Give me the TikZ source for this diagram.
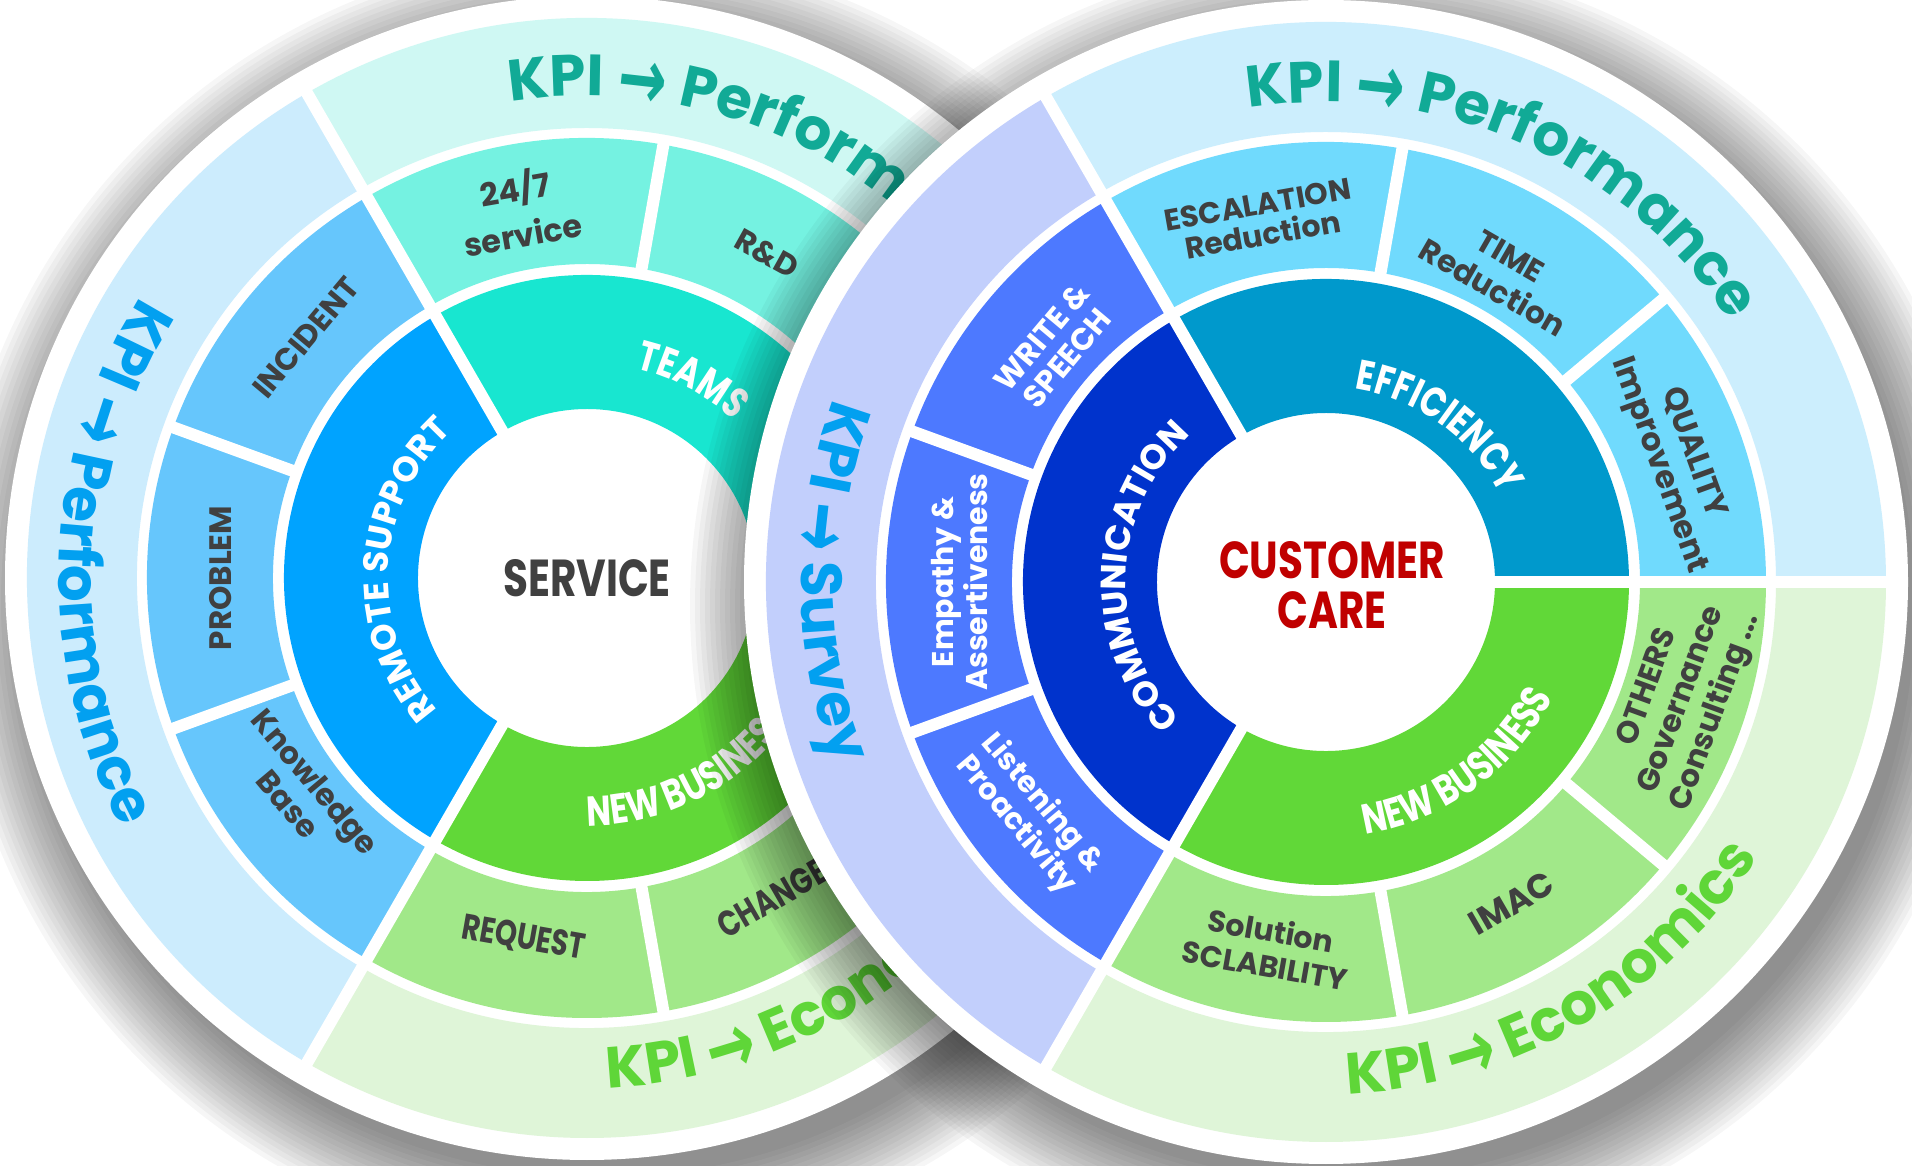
\documentclass[tikz,border=0pt]{standalone}
\usepackage{fontspec,graphicx}
\setmainfont{Poppins}
\newfontfamily\narrowfont{Poppins}[FakeStretch=0.78]
\newfontfamily\arrowfont{DejaVu Sans}
\usetikzlibrary{decorations.text}

\definecolor{ink}{HTML}{404040}
\definecolor{carered}{HTML}{C00000}
\definecolor{kpiteal}{HTML}{11AA96}
\definecolor{kpiblue}{HTML}{02A0F0}
\definecolor{kpigreen}{HTML}{5FD638}
% service wheel
\definecolor{teamsband}{HTML}{CFF8F3}
\definecolor{teamsmid}{HTML}{75F2E1}
\definecolor{teamscore}{HTML}{18E6D0}
\definecolor{supportband}{HTML}{CCECFD}
\definecolor{supportmid}{HTML}{66C6FC}
\definecolor{supportcore}{HTML}{00A3FF}
% shared green sector
\definecolor{bizband}{HTML}{DFF5D8}
\definecolor{bizmid}{HTML}{A1E889}
\definecolor{bizcore}{HTML}{61D838}
% customer care wheel
\definecolor{effband}{HTML}{CCEEFD}
\definecolor{effmid}{HTML}{70DAFD}
\definecolor{effcore}{HTML}{0099CC}
\definecolor{comband}{HTML}{C2CFFC}
\definecolor{commid}{HTML}{4D79FF}
\definecolor{comcore}{HTML}{0033CC}

% type for the curved texts
\newcommand\kpisize{\bfseries\fontsize{58}{60}\selectfont}
\newcommand\coresize{\bfseries\fontsize{35}{35}\selectfont}
\newcommand\corenarrow{\narrowfont\bfseries\fontsize{42}{42}\selectfont}
\newcommand\kpiarrow{{\arrowfont\fontsize{86}{86}\selectfont\raisebox{-9pt}{\scalebox{.68}[1]{→}}}}

% one piece of a ring: centre, inner r, outer r, from, to, colour
\newcommand\ringpart[6]{%
  \fill[#6,shift={(#1)}] (#4:#2pt) arc[start angle=#4,end angle=#5,radius=#2pt]
    -- (#5:#3pt) arc[start angle=#5,end angle=#4,radius=#3pt] -- cycle;}
% text set along an arc: centre, radius, from, to, colour, text
\newcommand\arclabel[6]{%
  \path[shift={(#1)},decorate,decoration={text along path,text align=center,
    text color=#5,text={#6}}] (#3:#2pt) arc[start angle=#3,end angle=#4,radius=#2pt];}
% soft shadow under a wheel
\newcommand\wheelshadow[1]{%
  \foreach \k in {0,...,15}
    \fill[black,opacity=.034] ([shift={(14,-24)}]#1) circle[radius=575pt+5pt*\k];}

\begin{document}
\begin{tikzpicture}[x=1pt,y=1pt,
  gap/.style={white,line width=12pt},
  darklabel/.style={text=ink,align=center,inner sep=0pt,
    font=\bfseries\fontsize{31}{35}\selectfont},
  lightlabel/.style={darklabel,text=white},
  narrowlabel/.style={darklabel,font=\narrowfont\bfseries\fontsize{36}{40}\selectfont},
  hub/.style={align=center,inner sep=0pt,
    font=\narrowfont\bfseries\fontsize{52}{50}\selectfont}]
\useasboundingbox (0,0) rectangle (1912,1165);
\coordinate (L) at (587,587);
\coordinate (R) at (1326,583);

%% SERVICE wheel
\wheelshadow{L}
\fill[white] (L) circle[radius=582pt];
\ringpart{L}{450}{560}{0}{120}{teamsband}
\ringpart{L}{450}{560}{120}{240}{supportband}
\ringpart{L}{450}{560}{240}{360}{bizband}
\ringpart{L}{314}{440}{0}{120}{teamsmid}
\ringpart{L}{314}{440}{120}{240}{supportmid}
\ringpart{L}{314}{440}{240}{360}{bizmid}
\ringpart{L}{169}{303}{0}{120}{teamscore}
\ringpart{L}{169}{303}{120}{240}{supportcore}
\ringpart{L}{169}{303}{240}{360}{bizcore}
\foreach \a in {0,120,240}
  \draw[gap,shift={(L)}] (\a:160pt) -- (\a:570pt);
\foreach \a in {40,80,160,200,280,320}
  \draw[gap,shift={(L)}] (\a:305pt) -- (\a:445pt);

\node[hub,text=ink] (service) at (L) {SERVICE};
\begin{scope}[shift={(L)}]
  \node[darklabel,rotate=10,font=\bfseries\fontsize{32}{46}\selectfont] (roundclock) at (100.5:375) {24/7\\service};
  \node[darklabel,rotate=-29] (rnd) at (61:371) {R\&D};
  \node[darklabel,rotate=50] (incident) at (139.5:370) {INCIDENT};
  \node[darklabel,rotate=90] (problem) at (180:366) {PROBLEM};
  \node[darklabel,rotate=-50] (kbase) at (217:357) {Knowledge\\Base};
  \node[narrowlabel,rotate=-10] (request) at (260:366) {REQUEST};
  \node[narrowlabel,rotate=30] (change) at (300:370) {CHANGE};
\end{scope}
\arclabel{L}{215}{102}{22}{white}{|\corenarrow|TEAMS}
\arclabel{L}{199}{237}{117}{white}{|\coresize|REMOTE SUPPORT}
\arclabel{L}{248}{-112}{-12}{white}{|\corenarrow|NEW BUSINESS}
\arclabel{L}{482}{126}{6}{kpiteal}{|\kpisize|KPI {\kpiarrow} Performance}
\arclabel{L}{528}{118}{238}{kpiblue}{|\kpisize|KPI {\kpiarrow} Performance}
\arclabel{L}{510}{-120}{0}{kpigreen}{|\kpisize|KPI {\kpiarrow} Economics}

%% CUSTOMER CARE wheel
\wheelshadow{R}
\fill[white] (R) circle[radius=582pt];
\ringpart{R}{450}{560}{0}{120}{effband}
\ringpart{R}{450}{560}{120}{240}{comband}
\ringpart{R}{450}{560}{240}{360}{bizband}
\ringpart{R}{314}{440}{0}{120}{effmid}
\ringpart{R}{314}{440}{120}{240}{commid}
\ringpart{R}{314}{440}{240}{360}{bizmid}
\ringpart{R}{169}{303}{0}{120}{effcore}
\ringpart{R}{169}{303}{120}{240}{comcore}
\ringpart{R}{169}{303}{240}{360}{bizcore}
\foreach \a in {0,120,240}
  \draw[gap,shift={(R)}] (\a:160pt) -- (\a:570pt);
\foreach \a in {40,80,160,200,280,320}
  \draw[gap,shift={(R)}] (\a:305pt) -- (\a:445pt);

\node[hub,text=carered] (care) at ([xshift=6,yshift=-3]R) {CUSTOMER\\CARE};
\begin{scope}[shift={(R)}]
  \node[darklabel,rotate=10,font=\bfseries\fontsize{30}{31}\selectfont] (escalation) at (100.3:368) {ESCALATION\\Reduction};
  \node[darklabel,rotate=-30,font=\bfseries\fontsize{31}{36}\selectfont] (time) at (60.5:356) {TIME\\Reduction};
  \node[darklabel,rotate=-70,font=\bfseries\fontsize{32}{36}\selectfont] (quality) at (19.3:370) {QUALITY\\Improvement};
  \node[darklabel,rotate=70,font=\bfseries\fontsize{31}{36}\selectfont] (others) at (-18.3:376) {OTHERS\\Governance\\Consulting ...};
  \node[darklabel,rotate=30,font=\bfseries\fontsize{34}{36}\selectfont] (imac) at (-60:371) {IMAC};
  \node[darklabel,rotate=-10,font=\bfseries\fontsize{30}{35}\selectfont] (solution) at (261:370) {Solution\\SCLABILITY};
  \node[lightlabel,rotate=50,font=\bfseries\fontsize{31}{33}\selectfont] (write) at (139.2:359) {WRITE \&\\SPEECH};
  \node[lightlabel,rotate=90,font=\bfseries\fontsize{30}{34}\selectfont] (empathy) at (180:366) {Empathy \&\\Assertiveness};
  \node[lightlabel,rotate=-50,font=\bfseries\fontsize{30}{34}\selectfont] (listening) at (218:377) {Listening \&\\Proactivity};
\end{scope}
\arclabel{R}{195}{104}{4}{white}{|\corenarrow|EFFICIENCY}
\arclabel{R}{200}{240}{116}{white}{|\coresize|COMMUNICATION}
\arclabel{R}{255}{-104}{-4}{white}{|\corenarrow|NEW BUSINESS}
\arclabel{R}{480}{126}{6}{kpiteal}{|\kpisize|KPI {\kpiarrow} Performance}
\arclabel{R}{525}{120}{240}{kpiblue}{|\kpisize|KPI {\kpiarrow} Survey}
\arclabel{R}{512}{-120}{0}{kpigreen}{|\kpisize|KPI {\kpiarrow} Economics}
\end{tikzpicture}
\end{document}
